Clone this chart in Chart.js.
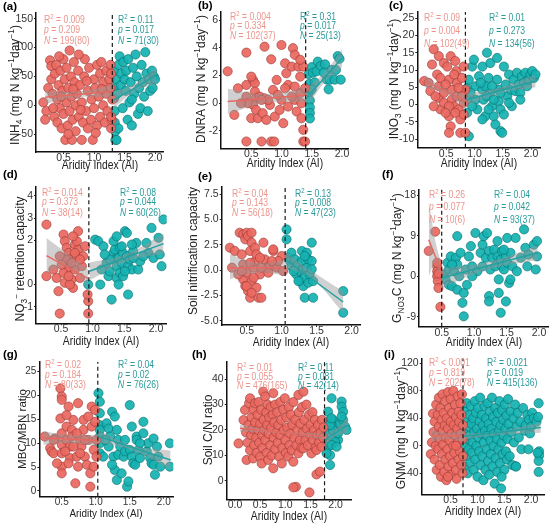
<!DOCTYPE html>
<html><head><meta charset="utf-8">
<script src="https://cdn.jsdelivr.net/npm/chart.js@4.4.1/dist/chart.umd.min.js"></script>
<style>
html,body{margin:0;padding:0;background:#fff;}
#wrap{position:relative;width:554px;height:525px;overflow:hidden;font-family:"Liberation Sans",Arial,Helvetica,sans-serif;}
.panel{position:absolute;}
.panel canvas{position:absolute;left:0;top:0;}
.lab{position:absolute;font-weight:bold;font-size:11.5px;color:#000;line-height:1;transform:translateY(-50%);}
.xt{position:absolute;color:#222;transform:translate(-50%,-50%) scaleX(0.86);white-space:nowrap;line-height:1;}
.yt{position:absolute;color:#222;transform:translate(-50%,-50%) rotate(-90deg);white-space:nowrap;line-height:1;}
.st{position:absolute;font-size:10px;line-height:1;white-space:nowrap;transform-origin:0 50%;transform:translateY(-50%) scaleX(0.86);}
sup,sub{font-size:70%;line-height:0;}
</style>
</head><body><div id="wrap"></div>
<script>
// ---------------- DATA ----------------
const xTicks = [0.5, 1.0, 1.5, 2.0];
const hXTicks = [0.0, 0.5, 1.0, 1.5, 2.0];
const aYTicks = [-50, 0, 50, 100, 150];
const bYTicks = [-2, 0, 2, 4, 6];
const cYTicks = [-10, -5, 0, 5, 10, 15, 20, 25];
const dYTicks = [-1, 0, 2, 3, 4];
const eYTicks = [-5, -2.5, 0, 2.5, 5, 7.5];
const fYTicks = [-9, 0, 9, 18];
const gYTicks = [0, 5, 10, 15, 20, 25];
const hYTicks = [0, 10, 20, 30, 40];
const iYTicks = [-40, 0, 40, 80, 120];

const xTitle = 'Aridity Index (AI)';
const yTitles = [
  'INH<sub>4</sub> (mg N kg<sup>−1</sup>day<sup>−1</sup>)',
  'DNRA (mg N kg<sup>−1</sup>day<sup>−1</sup>)',
  'INO<sub>3</sub> (mg N kg<sup>−1</sup>day<sup>−1</sup>)',
  'NO<sub>3</sub><sup>−</sup> retention capacity',
  'Soil nitrification capacity',
  'G<sub>NO3</sub>C (mg N kg<sup>−1</sup>day<sup>−1</sup>)',
  'MBC/MBN ratio',
  'Soil C/N ratio',
  'GNM (mg N kg<sup>−1</sup>day<sup>−1</sup>)'
];
const panelLabels = ['(a)','(b)','(c)','(d)','(e)','(f)','(g)','(h)','(i)'];

// thresholds (dashed lines)
const cuts = [1.30, 1.40, 0.84, 0.94, 1.05, 0.50, 1.03, 1.78, 0.73];

// stats [R2, p, N] for red (below threshold) and teal (above)
const redStats = [
  ['= 0.009','0.209','199(80)'], ['= 0.004','0.334','102(37)'], ['= 0.09','0.004','102(49)'],
  ['= 0.014','0.373','38(14)'], ['= 0.04','0.143','56(18)'], ['= 0.26','0.077','10(6)'],
  ['= 0.02','0.184','80(33)'], ['= 0.01','0.055','476(165)'], ['< 0.001','0.819','202(78)']
];
const tealStats = [
  ['= 0.11','0.017','71(30)'], ['= 0.31','0.017','25(13)'], ['= 0.01','0.273','134(56)'],
  ['= 0.08','0.044','60(26)'], ['= 0.13','0.008','47(23)'], ['= 0.04','0.042','93(37)'],
  ['= 0.04','0.02','76(26)'], ['= 0.11','0.081','42(14)'], ['= 0.021','0.019','415(136)']
];

// fitted lines [[x0,y0],[x1,y1]] and bands [[x, lower, upper], ...]
const redFits = [
  [[0.2,14],[1.3,24]], [[0.11,0.12],[1.42,0.6]], [[0.12,6.8],[0.84,1.0]],
  [[0.27,1.31],[0.93,0.27]], [[0.26,0.23],[1.05,0.23]], [[0.3,8.1],[0.48,1.5]],
  [[0.23,11.1],[1.03,10.6]], [[0.1,20.7],[1.78,17.4]], [[0.13,14.5],[0.73,14.5]]
];
const tealFits = [
  [[1.32,9],[2.02,52]], [[1.45,0.55],[2.0,3.25]], [[0.86,1.4],[2.08,6.8]],
  [[0.95,0.6],[2.12,1.85]], [[1.05,1.05],[1.88,-3.15]], [[0.5,-0.4],[1.98,5.2]],
  [[1.03,11.5],[2.1,6.5]], [[1.78,16],[2.25,22]], [[0.73,13.5],[2.18,26.6]]
];
const redBands = [
  [[0.2,3,25],[0.75,14,24],[1.3,13,35]],
  [[0.11,-0.8,1.05],[0.76,0.05,0.65],[1.42,0.05,1.15]],
  [[0.12,5,8.6],[0.48,3.2,4.6],[0.84,-1,3]],
  [[0.27,0.53,2.1],[0.6,0.8,1.4],[0.93,-0.15,0.68]],
  [[0.26,-0.9,1.55],[0.65,-0.25,0.7],[1.05,-0.5,1.0]],
  [[0.3,0,16.7],[0.4,3,8],[0.48,-0.5,3.5]],
  [[0.23,9.7,12.5],[0.63,10,11.7],[1.03,9.4,11.8]],
  [[0.1,19.3,22.1],[0.95,18.6,19.5],[1.78,16.2,18.6]],
  [[0.13,6,23],[0.45,10,19],[0.73,6,23]]
];
const tealBands = [
  [[1.32,-5,23],[1.67,24,37],[2.02,38,66]],
  [[1.45,-0.1,1.2],[1.72,1.55,2.25],[2.0,2.6,3.9]],
  [[0.86,-0.3,3.1],[1.47,3.3,5.0],[2.08,5,8.6]],
  [[0.95,0.2,1.0],[1.5,1.0,1.35],[2.12,1.4,2.3]],
  [[1.05,0.3,1.8],[1.45,-1.0,-0.2],[1.88,-4.2,-2.1]],
  [[0.5,-2.5,1.7],[1.25,1.6,3.3],[1.98,3.6,6.8]],
  [[1.03,10.2,12.8],[1.55,8.5,9.5],[2.1,4.5,8.5]],
  [[1.78,13.5,18.5],[2.0,17.5,20.5],[2.25,19,25]],
  [[0.73,9,18],[1.3,15,20],[2.18,19,34]]
];

// scatter points [x, y]
const aRed = [[0.17,5],[0.22,-10],[0.25,30],[0.28,78],[0.3,68],[0.3,45],[0.32,20],[0.35,-20],[0.36,55],[0.38,70],[0.4,10],[0.4,-30],[0.42,35],[0.44,-5],[0.45,60],[0.47,-40],[0.48,25],[0.5,80],[0.5,-15],[0.52,45],[0.53,-60],[0.55,5],[0.55,65],[0.57,-35],[0.58,30],[0.6,95],[0.6,-10],[0.62,50],[0.63,15],[0.64,-60],[0.65,-25],[0.67,75],[0.68,40],[0.7,0],[0.7,-45],[0.72,20],[0.74,60],[0.75,-20],[0.77,35],[0.8,-60],[0.8,5],[0.82,-30],[0.84,50],[0.85,80],[0.87,-10],[0.9,25],[0.9,-40],[0.92,65],[0.95,-25],[0.96,10],[0.98,-60],[1.0,45],[1.0,-5],[1.02,30],[1.05,-35],[1.05,70],[1.08,15],[1.1,55],[1.1,-20],[1.12,75],[1.15,0],[1.15,40],[1.18,-30],[1.2,60],[1.2,20],[1.22,-10],[1.25,45],[1.27,70],[1.28,-40],[1.3,10],[1.29,-25],[1.28,55],[1.27,30],[0.33,-5],[0.46,15],[0.58,-50],[0.66,28],[0.78,-8],[0.88,42],[1.03,-48],[1.13,28],[0.2,-25],[0.43,85],[0.75,88],[1.28,-20]];
const aTeal = [[1.33,60],[1.33,32],[1.33,12],[1.34,-10],[1.34,-30],[1.35,-45],[1.35,-60],[1.37,-60],[1.37,45],[1.38,20],[1.40,70],[1.42,85],[1.44,35],[1.45,55],[1.47,-5],[1.48,75],[1.50,45],[1.52,25],[1.53,60],[1.55,-25],[1.56,80],[1.58,5],[1.60,40],[1.62,-35],[1.64,65],[1.66,20],[1.68,88],[1.70,50],[1.72,-15],[1.74,30],[1.76,-5],[1.78,70],[1.80,40],[1.82,15],[1.84,92],[1.86,55],[1.88,-10],[1.90,45],[1.92,25],[1.95,60],[1.98,50],[2.0,45],[1.96,30],[1.4,-40],[1.62,10]];

const bRed = [[0.11,2.3],[0.22,-0.84],[0.28,1.08],[0.42,3.65],[0.42,1.32],[0.42,0.48],[0.42,-2.76],[0.53,1.68],[0.56,1.44],[0.56,0.84],[0.58,0.36],[0.53,-0.12],[0.58,-0.48],[0.5,-1.08],[0.61,-1.08],[0.64,0.48],[0.67,-2.76],[0.72,4.08],[0.72,0.36],[0.69,-0.72],[0.75,-1.2],[0.83,3.17],[0.83,-2.76],[0.88,-2.76],[0.81,-0.12],[0.86,0.96],[0.89,-0.96],[0.92,1.68],[1.0,4.2],[1.0,0.24],[0.97,-0.48],[1.03,-1.44],[1.06,2.88],[1.08,2.16],[1.11,1.32],[1.11,-0.24],[1.17,2.64],[1.19,3.97],[1.22,3.49],[1.22,1.2],[1.22,0.24],[1.25,-0.6],[1.28,2.64],[1.31,1.92],[1.31,0.72],[1.33,0],[1.33,-1.08],[1.36,-1.92],[1.36,-2.76],[1.39,-2.76],[1.36,2.64],[1.39,1.08],[1.31,3.13],[1.17,0.48],[1.06,1.08],[0.94,0.6],[0.78,0.24],[0.5,1.92],[0.44,0],[0.33,0],[0.67,0.24]];
const bTeal = [[1.45,2.1],[1.46,1.4],[1.46,0.8],[1.47,0.2],[1.47,-0.3],[1.47,-0.7],[1.47,-1.1],[1.5,2.6],[1.52,2.2],[1.55,1.5],[1.58,2.3],[1.6,3.0],[1.65,2.7],[1.72,2.8],[1.75,1.7],[1.78,1.0],[1.8,1.7],[1.83,2.4],[1.88,1.7],[1.9,2.4],[1.93,3.4],[1.96,3.2],[1.98,1.7],[1.7,2.2],[1.5,1.0]];

const cRed = [[0.11,6.8],[0.19,6.3],[0.28,16],[0.25,11.6],[0.22,3.9],[0.37,14],[0.34,8.7],[0.37,5.3],[0.37,1.9],[0.4,-1.4],[0.46,12],[0.46,3.4],[0.46,0.5],[0.52,11],[0.55,7.2],[0.55,-3.4],[0.58,14],[0.6,4.3],[0.6,1.4],[0.64,-0.5],[0.58,-6.3],[0.55,-8.2],[0.66,12.6],[0.68,9.7],[0.69,6.3],[0.69,2.4],[0.72,-1.4],[0.75,-4.3],[0.75,-8.2],[0.78,7.7],[0.81,0.5],[0.81,-2.9],[0.84,4.3],[0.84,-8.2],[0.4,7.7],[0.49,5.8],[0.31,2.4],[0.64,8.7],[0.72,4.8],[0.78,2.4],[0.55,-0.5],[0.49,-2.4],[0.66,-2.4],[0.28,-0.5],[0.81,11]];
const cTeal = [[0.9,-9.2],[0.87,4.8],[0.87,1.4],[0.87,-2.4],[0.9,7.2],[0.96,11],[0.99,13],[1.02,5.3],[1.02,1.4],[1.05,-1.4],[1.08,8.2],[1.14,11],[1.14,4.3],[1.16,1.4],[1.19,-3.4],[1.22,15],[1.25,7.7],[1.28,12],[1.28,3.4],[1.31,-0.5],[1.34,-3.4],[1.37,-5.8],[1.4,13.5],[1.4,7.2],[1.43,4.3],[1.43,1.0],[1.46,-1.4],[1.46,-7.7],[1.49,-8.2],[1.52,11],[1.55,5.8],[1.58,2.4],[1.61,8.7],[1.64,4.3],[1.66,-0.5],[1.69,7.2],[1.72,3.9],[1.75,9.2],[1.78,5.8],[1.81,3.4],[1.84,8.2],[1.87,6.3],[1.9,9.2],[1.93,5.3],[1.96,7.2],[1.99,8.7],[2.02,9.7],[2.05,7.7],[2.08,8.7],[1.19,5.3],[1.11,6.3],[0.93,3.4],[0.96,-0.5],[1.22,2.4],[1.34,1.4],[1.46,3.4],[1.25,-1.4],[1.14,-4.3],[1.31,5.3],[1.61,0.5],[1.81,1.4],[1.52,-2.9]];

const dRed = [[0.27,2.71],[0.27,0.38],[0.43,0.3],[0.46,-0.3],[0.48,-1.31],[0.54,2.26],[0.56,1.96],[0.59,1.66],[0.62,1.43],[0.64,1.13],[0.62,0.75],[0.67,0.23],[0.69,-0.15],[0.72,1.81],[0.75,1.28],[0.77,1.58],[0.77,2.41],[0.75,1.96],[0.72,0.68],[0.93,-1.31],[0.93,-0.75],[0.92,-0.45],[0.56,0.08],[0.59,1.13],[0.67,0.98],[0.54,0.53],[0.83,0.83],[0.8,0.3],[0.64,0],[0.48,1.28],[0.85,1.28],[0.38,0.68],[0.72,1.43],[0.62,0.38],[0.8,1.13],[0.69,2.18],[0.51,0.9],[0.88,1.73]];
const dTeal = [[0.93,0],[1.04,2.03],[1.09,1.96],[1.17,1.73],[1.22,0.98],[1.25,0.38],[1.27,0.6],[1.3,-0.68],[1.33,1.43],[1.35,1.58],[1.35,1.13],[1.38,0.83],[1.38,0.3],[1.41,1.2],[1.41,0],[1.43,1.66],[1.43,0.53],[1.46,0.98],[1.48,1.43],[1.51,2.41],[1.54,2.33],[1.54,1.28],[1.56,0.83],[1.56,-0.45],[1.59,1.13],[1.62,0.68],[1.64,1.51],[1.69,1.88],[1.72,0.68],[1.75,1.05],[1.85,1.88],[1.88,1.43],[1.93,2.56],[1.96,1.2],[2.04,2.11],[2.06,1.36],[2.09,0.83],[2.12,2.94],[1.48,0.38],[1.27,1.13],[1.14,0.68],[1.12,0],[1.33,1.96],[1.46,1.73],[1.64,1.2],[1.8,1.28],[1.51,0.6],[1.38,2.18],[1.19,1.36],[1.62,1.81]];

const eRed = [[0.26,2.2],[0.29,0.23],[0.33,1.88],[0.4,3.68],[0.43,1.55],[0.45,3.52],[0.48,3.03],[0.5,3.68],[0.52,3.36],[0.57,2.7],[0.55,1.88],[0.45,0.56],[0.45,-0.92],[0.48,-1.58],[0.5,-0.26],[0.52,-2.07],[0.55,-2.73],[0.57,-1.09],[0.6,0.23],[0.62,0.89],[0.64,-1.74],[0.67,-2.73],[0.69,-0.43],[0.71,-2.73],[0.74,2.7],[0.76,1.05],[0.79,0.23],[0.83,0.39],[0.88,1.88],[0.9,0.39],[0.93,0.23],[1.0,1.38],[1.02,-0.1],[0.95,0.89],[0.62,2.2],[0.6,-0.76],[0.55,0.72],[0.5,-1.58],[0.64,1.55],[0.69,1.22],[0.81,-0.26],[0.86,0.89],[0.38,-0.43],[0.43,-0.1],[0.57,-2.24],[0.71,0.23],[0.57,3.68],[0.88,2.04]];
const eTeal = [[1.07,4.01],[1.07,3.03],[1.1,1.22],[1.12,0.89],[1.14,1.71],[1.14,0.39],[1.19,1.05],[1.19,0.07],[1.21,-0.43],[1.24,0.56],[1.26,-0.1],[1.26,-1.09],[1.29,1.88],[1.29,0.89],[1.31,0.07],[1.31,-1.58],[1.33,-0.76],[1.33,-2.73],[1.36,1.71],[1.36,0.23],[1.38,1.05],[1.38,-1.25],[1.4,-0.43],[1.43,2.7],[1.43,0.89],[1.45,-2.73],[1.45,-1.09],[1.43,0.07],[1.88,-2.07],[1.88,-4.21],[1.24,-1.09],[1.17,-0.1],[1.33,1.38]];

const fRed = [[0.3,5.6],[0.4,9.9],[0.43,2.2],[0.43,1.1],[0.43,0.0],[0.44,-1.1],[0.45,-2.6],[0.48,-6.8],[0.43,3.0],[0.45,0.6]];
const fTeal = [[0.54,0.4],[0.56,-0.7],[0.59,3.0],[0.61,1.5],[0.61,-1.9],[0.64,4.4],[0.66,-2.2],[0.69,1.1],[0.72,4.1],[0.74,8.9],[0.74,2.6],[0.77,0],[0.74,-3.0],[0.82,-5.9],[0.84,-8.9],[0.84,-3.7],[0.87,1.5],[0.89,-1.9],[0.92,4.4],[0.95,6.7],[0.97,2.2],[1.02,9.6],[1.05,1.1],[1.1,5.2],[1.13,7.0],[1.15,8.9],[1.18,4.1],[1.2,9.6],[1.23,5.6],[1.23,-4.4],[1.23,-5.6],[1.25,1.5],[1.28,4.1],[1.31,5.9],[1.33,2.2],[1.36,7.8],[1.36,4.4],[1.38,-0.7],[1.38,-3.7],[1.41,3.7],[1.41,-8.1],[1.43,5.6],[1.43,2.2],[1.46,1.5],[1.49,4.4],[1.49,-5.6],[1.51,8.5],[1.51,3.0],[1.54,-1.5],[1.56,5.2],[1.59,2.2],[1.64,8.5],[1.66,1.1],[1.72,4.1],[1.77,10.4],[1.79,6.3],[1.82,2.2],[1.84,4.8],[1.92,7.0],[1.95,1.5],[1.97,7.8],[1.97,4.4],[1.13,2.2],[0.97,0],[0.79,5.2],[0.66,2.6],[1.56,-0.7],[1.46,5.9]];

const gRed = [[0.25,11.4],[0.33,9.0],[0.35,8.3],[0.38,7.9],[0.4,11.0],[0.48,21.5],[0.5,19.8],[0.5,19.1],[0.48,15.2],[0.5,12.1],[0.5,9.7],[0.5,7.9],[0.5,5.1],[0.5,3.7],[0.57,10.7],[0.57,13.5],[0.6,17.7],[0.62,9.3],[0.62,6.9],[0.65,12.8],[0.65,11.4],[0.67,14.9],[0.7,1.6],[0.72,7.2],[0.74,5.1],[0.74,18.4],[0.77,10.7],[0.79,9.3],[0.82,12.8],[0.84,7.2],[0.87,5.5],[0.89,10.7],[0.92,0.9],[0.92,3.7],[0.94,17.7],[0.94,13.5],[0.97,8.6],[0.99,17.0],[0.99,14.5],[1.01,10.7],[1.01,7.2],[0.97,5.1],[0.82,14.9],[0.89,15.6],[0.43,5.8],[0.38,10.7],[0.6,5.8],[0.67,9.3],[0.77,7.9],[0.55,8.3],[0.72,12.1],[0.84,10.7],[0.57,15.9]];
const gTeal = [[1.04,20.5],[1.06,18.7],[1.06,16.3],[1.06,13.8],[1.06,12.8],[1.06,11.4],[1.06,10.0],[1.06,7.9],[1.11,7.2],[1.16,14.2],[1.19,13.1],[1.19,9.3],[1.21,11.4],[1.24,16.6],[1.26,7.2],[1.28,15.6],[1.28,4.4],[1.31,2.3],[1.33,10.7],[1.33,7.6],[1.36,9.3],[1.38,3.7],[1.41,7.2],[1.43,8.3],[1.46,0.9],[1.48,2.0],[1.5,18.0],[1.5,8.6],[1.53,7.2],[1.55,5.8],[1.58,5.5],[1.6,11.4],[1.6,10.7],[1.63,8.6],[1.65,6.9],[1.7,14.5],[1.7,12.1],[1.75,8.3],[1.77,10.0],[1.8,6.9],[1.82,5.8],[1.85,11.0],[1.85,5.5],[1.87,3.4],[1.9,9.3],[1.92,7.2],[1.95,5.1],[2.09,10.0],[2.09,5.1],[1.14,10.7],[1.31,12.8],[1.43,10.7],[1.53,13.5],[1.65,10.0],[1.24,5.5]];

const hRed = [[0.07,14.7],[0.17,23.9],[0.2,27.9],[0.22,19],[0.23,8.2],[0.25,15],[0.27,22],[0.28,30.5],[0.3,32.5],[0.3,12],[0.32,18],[0.33,25],[0.35,20.5],[0.36,8.8],[0.37,28],[0.38,14],[0.4,30.5],[0.4,23],[0.42,17],[0.43,11],[0.45,26],[0.46,20],[0.47,31],[0.48,15],[0.5,22.5],[0.5,9.5],[0.52,28],[0.53,6.8],[0.54,18],[0.55,13],[0.56,35.1],[0.57,24],[0.58,20],[0.6,33.2],[0.6,16],[0.62,27],[0.63,11],[0.64,22],[0.65,30],[0.66,8.2],[0.67,18.5],[0.68,25],[0.7,14],[0.71,29],[0.72,21],[0.73,10],[0.75,26],[0.76,34.5],[0.76,4.9],[0.77,17],[0.78,23],[0.8,12.5],[0.8,30],[0.82,19],[0.84,27],[0.85,15],[0.86,22],[0.88,9.5],[0.9,31],[0.9,18],[0.92,24],[0.93,6.8],[0.94,13],[0.96,28],[0.97,20],[0.99,32.5],[1.0,16],[1.01,11],[1.02,25],[1.04,21],[1.06,9.5],[1.07,29],[1.08,14],[1.1,18.5],[1.11,26],[1.13,12],[1.14,22],[1.16,7.5],[1.16,31],[1.18,17],[1.2,24],[1.21,-2.4],[1.16,-2.6],[1.22,14],[1.24,20],[1.26,33.8],[1.26,10.8],[1.27,27],[1.29,16],[1.3,22.5],[1.32,13],[1.33,29],[1.35,19],[1.36,35.1],[1.36,12.8],[1.38,24],[1.4,16],[1.42,30],[1.43,20.5],[1.45,14],[1.47,26],[1.48,-4.6],[1.49,18],[1.5,22],[1.52,10.8],[1.54,27],[1.55,16],[1.57,20],[1.59,24],[1.6,13],[1.62,2.5],[1.62,12.1],[1.63,18],[1.65,22],[1.67,15],[1.69,3.6],[1.7,19],[1.72,13.4],[1.73,24],[1.75,17],[1.76,21]];
const hTeal = [[1.85,27.2],[1.92,32.5],[1.85,23.3],[1.85,20.7],[1.82,18.7],[1.82,16.1],[1.85,13.4],[1.89,10.1],[1.89,6.2],[1.95,23.9],[1.99,21.3],[2.02,18.7],[2.05,16.1],[2.09,22.6],[2.12,31.2],[2.12,29.2],[2.15,27.2],[2.15,23.9],[2.19,21.3],[2.22,20.0],[2.12,25.3],[1.92,17.4],[1.99,15.4],[1.95,20],[1.92,14.1],[2.05,18.7],[1.89,22.0],[2.02,13.4],[1.82,10.8],[1.92,24.6]];

const iRed = [[0.13,-12],[0.15,5],[0.17,47],[0.18,20],[0.2,-20],[0.2,35],[0.22,0],[0.23,60],[0.24,-35],[0.25,15],[0.26,45],[0.27,-5],[0.28,70],[0.28,28],[0.3,-28],[0.3,10],[0.31,55],[0.32,-45],[0.33,38],[0.34,-12],[0.35,22],[0.35,75],[0.36,2],[0.37,48],[0.38,-38],[0.39,30],[0.4,-20],[0.4,65],[0.41,12],[0.42,-50],[0.43,40],[0.44,-5],[0.45,25],[0.45,78],[0.46,-30],[0.47,55],[0.48,8],[0.49,-15],[0.5,35],[0.5,68],[0.51,-42],[0.52,18],[0.53,48],[0.54,-25],[0.55,0],[0.55,80],[0.56,30],[0.57,-10],[0.58,60],[0.59,15],[0.6,-35],[0.6,42],[0.61,-48],[0.62,25],[0.63,72],[0.64,5],[0.65,-20],[0.65,50],[0.66,35],[0.67,-8],[0.68,62],[0.69,18],[0.7,-28],[0.7,45],[0.71,75],[0.72,-40],[0.72,10],[0.73,30],[0.73,-15],[0.6,0],[0.45,-45]];
const iTeal = [[0.74,20],[0.75,-30],[0.76,50],[0.77,0],[0.78,35],[0.79,-15],[0.8,62],[0.81,10],[0.82,-40],[0.83,28],[0.84,-5],[0.85,45],[0.86,15],[0.87,-25],[0.88,58],[0.89,32],[0.9,-10],[0.91,5],[0.92,40],[0.93,-35],[0.94,20],[0.95,65],[0.96,-20],[0.97,48],[0.98,0],[0.99,25],[1.0,-45],[1.01,55],[1.02,12],[1.03,-8],[1.04,36],[1.05,70],[1.06,-28],[1.07,18],[1.08,45],[1.09,-15],[1.1,30],[1.11,-50],[1.12,5],[1.13,58],[1.14,22],[1.15,-35],[1.16,40],[1.17,-5],[1.18,15],[1.19,62],[1.2,-22],[1.21,32],[1.22,-42],[1.23,50],[1.24,8],[1.25,-12],[1.26,25],[1.27,70],[1.28,-30],[1.29,42],[1.3,0],[1.31,18],[1.32,-55],[1.33,55],[1.34,-18],[1.35,35],[1.36,10],[1.37,-38],[1.38,48],[1.39,-5],[1.4,22],[1.41,65],[1.42,-25],[1.43,30],[1.44,-62],[1.45,5],[1.46,52],[1.47,-12],[1.48,38],[1.49,15],[1.5,-35],[1.51,60],[1.52,25],[1.53,-8],[1.54,44],[1.55,-20],[1.56,10],[1.57,68],[1.58,32],[1.6,-15],[1.62,50],[1.63,20],[1.65,-28],[1.67,40],[1.68,5],[1.7,60],[1.71,-30],[1.73,28],[1.75,48],[1.77,12],[1.8,35],[1.82,-5],[1.85,55],[1.88,22],[1.9,30],[1.93,45],[1.96,38],[1.98,18],[2.0,28],[2.02,48],[2.05,40],[2.1,35],[2.14,62],[2.15,-8],[2.15,-14],[2.14,-22],[2.14,-38],[2.13,42],[2.12,-10],[1.95,-5],[1.72,-30],[1.45,-45]];

// ---------------- LAYOUT ----------------
const RED = 'rgba(234,104,96,0.93)', REDB = 'rgba(150,58,52,0.85)';
const TEAL = 'rgba(22,178,178,0.93)', TEALB = 'rgba(8,108,108,0.85)';
const REDL = '#E8685F', TEALL = '#1FA3A3';
const BAND = 'rgba(150,150,150,0.45)';
const REDT = '#EC958D', TEALT = '#2A9A9A';

// choose a narrow font for tick labels if one is installed
const probe = document.createElement('canvas').getContext('2d');
probe.font = '20px "Liberation Sans Narrow", "DejaVu Sans Mono"';
const wN = probe.measureText('0123456789').width;
probe.font = '20px "DejaVu Sans Mono"';
const wM = probe.measureText('0123456789').width;
const hasNarrow = Math.abs(wN - wM) > 0.5;
const TICKFF = hasNarrow ? '"Liberation Sans Narrow", "Liberation Sans", Arial, sans-serif' : '"Liberation Sans", Arial, sans-serif';
const tickSize = fs => hasNarrow ? fs : fs - 1.5;

const panels = [
  {ox:0,  oy:0,  w:185,h:175, ca:[36,13,163,152],     xr:[0.05,2.13], yr:[-81,160],   xt:xTicks, yt:aYTicks, ydec:0, red:aRed, teal:aTeal, lab:[3,7],  xty:165, ytp:[15,85], sR:44, sT:118, sY:[20,30,41], fs:12},
  {ox:185,oy:0,  w:185,h:175, ca:[36,12,163,148.3],   xr:[0.0,2.1],   yr:[-3.25,6.58],xt:xTicks, yt:bYTicks, ydec:0, red:bRed, teal:bTeal, lab:[13,6], xty:163, ytp:[16,79], sR:45, sT:115, sY:[17,26,36], fs:12},
  {ox:369,oy:0,  w:185,h:175, ca:[48.3,12,171.7,147.7],xr:[-0.01,2.17],yr:[-12.5,26.8],xt:xTicks, yt:cYTicks, ydec:0, red:cRed, teal:cTeal, lab:[20,6], xty:163, ytp:[25,79], sR:55, sT:120, sY:[18,31,44], fs:12},
  {ox:0,  oy:170,w:185,h:175, ca:[36,16.7,166.7,153.3],xr:[0.105,2.17],yr:[-1.75,4.42],xt:xTicks, yt:dYTicks, ydec:0, red:dRed, teal:dTeal, lab:[3,5],  xty:171, ytp:[20,89], sR:42, sT:120, sY:[23,32,43], fs:12},
  {ox:185,oy:170,w:185,h:175, ca:[36.7,16.7,175,155], xr:[0.143,2.12],yr:[-5.42,8.22],xt:xTicks, yt:eYTicks, ydec:1, red:eRed, teal:eTeal, lab:[13,7], xty:172, ytp:[8,81],  sR:47, sT:110, sY:[24,33,43], fs:12},
  {ox:369,oy:170,w:185,h:175, ca:[50,19.3,180,156.7], xr:[0.15,2.15], yr:[-11.2,19.3],xt:xTicks, yt:fYTicks, ydec:0, red:fRed, teal:fTeal, lab:[13,5], xty:172, ytp:[28,88], sR:60, sT:125, sY:[25,37,50], fs:12},
  {ox:0,  oy:340,w:185,h:185, ca:[39.3,21.7,173.3,156.7],xr:[0.17,2.14],yr:[-1.2,27.1],xt:xTicks, yt:gYTicks, ydec:0, red:gRed, teal:gTeal, lab:[3,15], xty:174, ytp:[23,89], sR:45, sT:118, sY:[25,35,45], fs:11.5},
  {ox:185,oy:340,w:185,h:185, ca:[41.7,21.7,166.7,159.3],xr:[-0.165,2.32],yr:[-7.3,46.9],xt:hXTicks,yt:hYTicks, ydec:0, red:hRed, teal:hTeal, lab:[7,15], xty:176, ytp:[23,90], sR:52, sT:113, sY:[28,37,46], fs:12},
  {ox:369,oy:340,w:185,h:185, ca:[52.7,18.3,175,154.3],xr:[-0.04,2.24],yr:[-70.5,127.3],xt:xTicks, yt:iYTicks, ydec:0, red:iRed, teal:iTeal, lab:[15,15],xty:171, ytp:[32,88], sR:60, sT:118, sY:[23,33,43], fs:12}
];

const pts = arr => arr.map(p => ({x:p[0], y:p[1]}));
const wrap = document.getElementById('wrap');

function addDiv(parent, cls, html, left, top, extra) {
  const d = document.createElement('div');
  d.className = cls; d.innerHTML = html;
  d.style.left = left + 'px'; d.style.top = top + 'px';
  if (extra) Object.assign(d.style, extra);
  parent.appendChild(d);
  return d;
}

panels.forEach((P, k) => {
  const div = document.createElement('div');
  div.className = 'panel';
  Object.assign(div.style, {left:P.ox+'px', top:P.oy+'px', width:P.w+'px', height:P.h+'px'});
  const cv = document.createElement('canvas');
  cv.width = P.w; cv.height = P.h;
  cv.style.width = P.w + 'px'; cv.style.height = P.h + 'px';
  div.appendChild(cv);
  wrap.appendChild(div);

  const [L, T, R, B] = P.ca;
  const ds = [];
  ds.push({type:'scatter', data:pts(P.red), backgroundColor:RED, borderColor:REDB, borderWidth:0.7, pointRadius:4.6, order:3});
  ds.push({type:'scatter', data:pts(P.teal), backgroundColor:TEAL, borderColor:TEALB, borderWidth:0.7, pointRadius:4.6, order:3});
  [redBands[k], tealBands[k]].forEach(band => {
    const loIdx = ds.length;
    ds.push({type:'line', data:band.map(b => ({x:b[0], y:b[1]})), borderColor:'rgba(0,0,0,0)', borderWidth:0, pointRadius:0, tension:0.4, fill:false, order:2});
    ds.push({type:'line', data:band.map(b => ({x:b[0], y:b[2]})), borderColor:'rgba(0,0,0,0)', borderWidth:0, pointRadius:0, tension:0.4, fill:{target:loIdx}, backgroundColor:BAND, order:2});
  });
  ds.push({type:'line', data:pts(redFits[k]), borderColor:REDL, borderWidth:1.5, pointRadius:0, fill:false, order:1});
  ds.push({type:'line', data:pts(tealFits[k]), borderColor:TEALL, borderWidth:1.5, pointRadius:0, fill:false, order:1});
  ds.push({type:'line', data:[{x:cuts[k], y:P.yr[0]}, {x:cuts[k], y:P.yr[1]}], borderColor:'#1a1a1a', borderWidth:1.2, borderDash:[4,3], pointRadius:0, fill:false, order:0});

  const tickFont = {size:tickSize(P.fs), family:TICKFF};
  new Chart(cv, {
    type:'scatter',
    data:{datasets:ds},
    options:{
      responsive:false, animation:false, events:[],
      layout:{padding:{left:0, top:T, right:P.w - R, bottom:0}},
      plugins:{legend:{display:false}, tooltip:{enabled:false}},
      scales:{
        x:{type:'linear', min:P.xr[0], max:P.xr[1],
           afterBuildTicks:s => { s.ticks = P.xt.map(v => ({value:v})); },
           afterFit:s => { s.height = P.h - B; },
           ticks:{font:tickFont, color:'#333', padding:-2, autoSkip:false, maxRotation:0, callback:v => Number(v).toFixed(1)},
           grid:{display:true, drawOnChartArea:false, drawTicks:true, tickLength:2, color:'#222', lineWidth:1},
           border:{display:true, color:'#111', width:1.5}},
        y:{type:'linear', min:P.yr[0], max:P.yr[1],
           afterBuildTicks:s => { s.ticks = P.yt.map(v => ({value:v})); },
           afterFit:s => { s.width = L; },
           ticks:{font:tickFont, color:'#333', padding:1, autoSkip:false, callback:v => Number(v).toFixed(P.ydec)},
           grid:{display:true, drawOnChartArea:false, drawTicks:true, tickLength:2, color:'#222', lineWidth:1},
           border:{display:true, color:'#111', width:1.5}}
      }
    }
  });

  // overlays
  addDiv(div, 'lab', panelLabels[k], P.lab[0], P.lab[1]);
  addDiv(div, 'xt', xTitle, (L + R) / 2, P.xty, {fontSize:P.fs + 'px'});
  addDiv(div, 'yt', yTitles[k], P.ytp[0], P.ytp[1], {fontSize:P.fs + 'px'});
  const lines = s => ['R<sup>2</sup> ' + s[0], '<i>p</i> = ' + s[1], '<i>N</i> = ' + s[2]];
  lines(redStats[k]).forEach((h, j) => addDiv(div, 'st', h, P.sR, P.sY[j], {color:REDT}));
  lines(tealStats[k]).forEach((h, j) => addDiv(div, 'st', h, P.sT, P.sY[j], {color:TEALT}));
});
</script>
</body></html>
